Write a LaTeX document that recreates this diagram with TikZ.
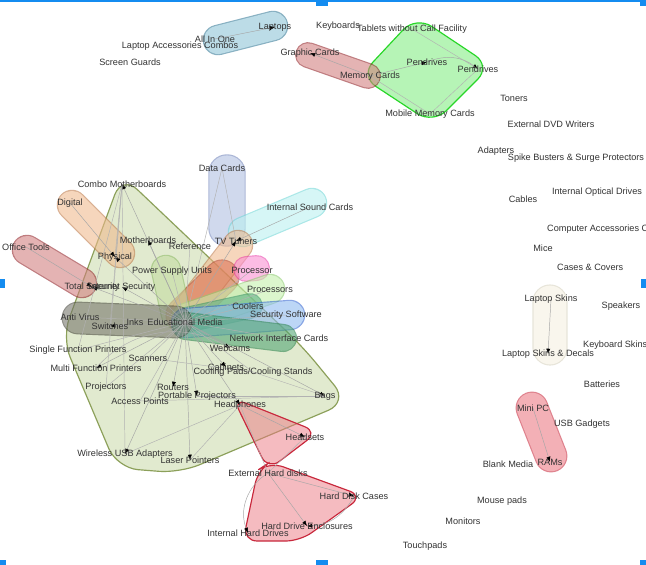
\documentclass[tikz,border=0pt]{standalone}
\usepackage{fontspec}
\setmainfont{Liberation Sans}
\usetikzlibrary{arrows.meta}
\pgfdeclarelayer{hulls}
\pgfdeclarelayer{links}
\pgfsetlayers{hulls,links,main}
\definecolor{olivefill}{RGB}{196,214,160}
\definecolor{oliveline}{RGB}{140,160,90}
\definecolor{redfill}{RGB}{236,120,130}
\definecolor{redline}{RGB}{200,40,60}
\definecolor{greenfill}{RGB}{110,235,110}
\definecolor{greenline}{RGB}{40,215,40}
\definecolor{bluefill}{RGB}{140,195,215}
\definecolor{blueline}{RGB}{50,120,150}
\definecolor{rosefill}{RGB}{210,125,125}
\definecolor{roseline}{RGB}{145,30,35}
\definecolor{beigefill}{RGB}{245,240,225}
\definecolor{beigeline}{RGB}{215,210,190}
\definecolor{peachfill}{RGB}{240,185,140}
\definecolor{peachline}{RGB}{190,120,70}
\definecolor{slatefill}{RGB}{175,190,225}
\definecolor{slateline}{RGB}{110,130,185}
\definecolor{cyanfill}{RGB}{185,240,240}
\definecolor{cyanline}{RGB}{110,215,215}
\definecolor{rustfill}{RGB}{220,110,80}
\definecolor{rustline}{RGB}{180,70,50}
\definecolor{magfill}{RGB}{250,140,210}
\definecolor{magline}{RGB}{235,60,170}
\definecolor{limefill}{RGB}{195,240,170}
\definecolor{limeline}{RGB}{140,205,110}
\definecolor{sagefill}{RGB}{195,220,160}
\definecolor{sageline}{RGB}{140,185,100}
\definecolor{tealfill}{RGB}{90,175,130}
\definecolor{tealline}{RGB}{50,145,100}
\definecolor{skyfill}{RGB}{140,185,240}
\definecolor{skyline}{RGB}{50,100,210}
\definecolor{pinefill}{RGB}{80,165,115}
\definecolor{pineline}{RGB}{40,130,75}
\definecolor{ashfill}{RGB}{115,115,105}
\definecolor{ashline}{RGB}{65,65,55}
\definecolor{handle}{RGB}{20,140,240}

\begin{document}
\begin{tikzpicture}[x=0.03cm, y=-0.03cm,
  lbl/.style={text=black!80, font=\fontsize{7.8}{9}\selectfont, inner sep=0pt},
  link/.style={draw=black!35, line width=0.4pt, -{Latex[length=4.5pt,width=3.5pt,color=black]}},
  plainlink/.style={draw=black!30, line width=0.4pt},
  pill/.style n args={3}{line cap=round, draw=#2, line width=1pt, double=#1, double distance=#3},
  grp/.style={transparency group, opacity=0.58},
  hull/.style 2 args={fill=#1, draw=#2, line width=1pt, fill opacity=0.5, rounded corners=12pt}]
\useasboundingbox (0,0) rectangle (646,565);
\clip (0,0) rectangle (646,565);

\node[lbl] (laptops) at (275,27) {Laptops};
\node[lbl] (keyboards) at (338,26) {Keyboards};
\node[lbl] (tablets) at (412,29) {Tablets without Call Facility};
\node[lbl] (allinone) at (215,39) {All In One};
\node[lbl] (combos) at (180,46) {Laptop Accessories Combos};
\node[lbl] (guards) at (130,62) {Screen Guards};
\node[lbl] (graphic) at (310,53) {Graphic Cards};
\node[lbl] (pen) at (427,62) {Pendrives};
\node[lbl] (pentwo) at (478,69) {Pendrives};
\node[lbl] (memory) at (370,76) {Memory Cards};
\node[lbl] (mobile) at (430,114) {Mobile Memory Cards};
\node[lbl] (toners) at (514,98) {Toners};
\node[lbl] (dvd) at (551,124) {External DVD Writers};
\node[lbl] (adapters) at (496,151) {Adapters};
\node[lbl] (spike) at (576,158) {Spike Busters \& Surge Protectors};
\node[lbl] (cables) at (523,199) {Cables};
\node[lbl] (optical) at (597,192) {Internal Optical Drives};
\node[lbl, anchor=west] (accessories) at (547,229) {Computer Accessories Combos};
\node[lbl] (mice) at (543,248) {Mice};
\node[lbl, anchor=west] (cases) at (557,267) {Cases \& Covers};
\node[lbl] (skins) at (551,299) {Laptop Skins};
\node[lbl] (speakers) at (621,306) {Speakers};
\node[lbl, anchor=west] (kbskins) at (583,345) {Keyboard Skins};
\node[lbl] (decals) at (548,354) {Laptop Skins \& Decals};
\node[lbl] (batteries) at (602,384) {Batteries};
\node[lbl] (minipc) at (533,408) {Mini PC};
\node[lbl] (usb) at (582,424) {USB Gadgets};
\node[lbl] (blank) at (508,464) {Blank Media};
\node[lbl] (rams) at (550,462) {RAMs};
\node[lbl] (mousepads) at (502,501) {Mouse pads};
\node[lbl] (monitors) at (463,521) {Monitors};
\node[lbl] (touchpads) at (425,546) {Touchpads};

\node[lbl] (datacards) at (222,168) {Data Cards};
\node[lbl] (combo) at (122,184) {Combo Motherboards};
\node[lbl] (sound) at (310,207) {Internal Sound Cards};
\node[lbl] (digital) at (70,203) {Digital};
\node[lbl] (mother) at (148,240) {Motherboards};
\node[lbl] (reference) at (190,246) {Reference};
\node[lbl] (tv) at (236,241) {TV Tuners};
\node[lbl] (physical) at (115,257) {Physical};
\node[lbl] (office) at (26,247) {Office Tools};
\node[lbl] (power) at (172,271) {Power Supply Units};
\node[lbl] (processor) at (252,270) {Processor};
\node[lbl] (totalsec) at (92,287) {Total Security};
\node[lbl] (intsec) at (122,287) {Internet Security};
\node[lbl] (processors) at (270,289) {Processors};
\node[lbl] (coolers) at (248,306) {Coolers};
\node[lbl] (secsoft) at (286,315) {Security Software};
\node[lbl] (antivirus) at (80,317) {Anti Virus};
\node[lbl] (switches) at (110,326) {Switches};
\node[lbl] (inks) at (135,322) {Inks};
\node[lbl] (edu) at (185,322) {Educational Media};
\node[lbl] (nic) at (279,338) {Network Interface Cards};
\node[lbl] (single) at (78,350) {Single Function Printers};
\node[lbl] (scanners) at (148,358) {Scanners};
\node[lbl] (webcams) at (230,348) {Webcams};
\node[lbl] (multi) at (96,368) {Multi Function Printers};
\node[lbl] (cabinets) at (226,367) {Cabinets};
\node[lbl] (cooling) at (253,372) {Cooling Pads/Cooling Stands};
\node[lbl] (projectors) at (106,387) {Projectors};
\node[lbl] (routers) at (173,387) {Routers};
\node[lbl] (portable) at (197,396) {Portable Projectors};
\node[lbl] (access) at (140,401) {Access Points};
\node[lbl] (headphones) at (240,405) {Headphones};
\node[lbl] (bags) at (325,396) {Bags};
\node[lbl] (headsets) at (305,437) {Headsets};
\node[lbl] (wireless) at (125,454) {Wireless USB Adapters};
\node[lbl] (laser) at (190,460) {Laser Pointers};
\node[lbl] (external) at (268,473) {External Hard disks};
\node[lbl] (hdcases) at (354,496) {Hard Disk Cases};
\node[lbl] (enclosures) at (307,526) {Hard Drive Enclosures};
\node[lbl] (internal) at (248,533) {Internal Hard Drives};

\begin{pgfonlayer}{hulls}
\fill[white] (0,0) rectangle (646,565);
\filldraw[hull={olivefill}{oliveline}, rounded corners=18pt] (122,175) -- (302,346) -- (348,402) -- (180,473) -- (117,468) -- (62,338) -- cycle;
\filldraw[hull={redfill}{redline}] (270,462) -- (363,496) -- (300,541) -- (243,541) -- (258,470) -- cycle;
\filldraw[hull={redfill}{redline}] (233,398) -- (318,432) -- (268,470) -- cycle;
\filldraw[hull={greenfill}{greenline}, rounded corners=16pt] (360,76) -- (416,16) -- (491,66) -- (433,124) -- cycle;
\begin{scope}[grp] \draw[pill={bluefill}{blueline}{24pt}] (218,40) -- (273,26); \end{scope}
\begin{scope}[grp] \draw[pill={rosefill}{roseline}{20pt}] (308,55) -- (368,76); \end{scope}
\begin{scope}[grp] \draw[pill={beigefill}{beigeline}{28pt}] (550,302) -- (550,348); \end{scope}
\begin{scope}[grp] \draw[pill={redfill}{redline}{26pt}] (532,408) -- (551,456); \end{scope}
\begin{scope}[grp] \draw[pill={rosefill}{roseline}{24pt}] (27,250) -- (82,283); \end{scope}
\begin{scope}[grp] \draw[pill={peachfill}{peachline}{24pt}] (72,205) -- (120,253); \end{scope}
\begin{scope}[grp] \draw[pill={slatefill}{slateline}{30pt}] (227,173) -- (227,228); \end{scope}
\begin{scope}[grp] \draw[pill={cyanfill}{cyanline}{24pt}] (243,232) -- (312,203); \end{scope}
\begin{scope}[grp] \draw[pill={peachfill}{peachline}{24pt}] (238,245) -- (186,312); \end{scope}
\begin{scope}[grp] \draw[pill={rustfill}{rustline}{28pt}] (222,277) -- (183,315); \end{scope}
\begin{scope}[grp] \draw[pill={magfill}{magline}{20pt}] (246,269) -- (257,268); \end{scope}
\begin{scope}[grp] \draw[pill={limefill}{limeline}{24pt}] (270,289) -- (186,318); \end{scope}
\begin{scope}[grp] \draw[pill={sagefill}{sageline}{24pt}] (166,270) -- (176,314); \end{scope}
\begin{scope}[grp] \draw[pill={tealfill}{tealline}{20pt}] (250,306) -- (186,320); \end{scope}
\begin{scope}[grp] \draw[pill={skyfill}{skyline}{24pt}] (290,315) -- (186,323); \end{scope}
\begin{scope}[grp] \draw[pill={pinefill}{pineline}{22pt}] (283,338) -- (186,326); \end{scope}
\begin{scope}[grp] \draw[pill={ashfill}{ashline}{26pt}] (78,318) -- (176,322); \end{scope}
\end{pgfonlayer}

\begin{pgfonlayer}{links}
\foreach \t in {combo, mother, physical, totalsec, intsec, switches, multi, routers, portable, wireless, laser, headphones, bags, webcams, tv, cabinets}
  \draw[link] (edu.center) -- (\t.center);
\foreach \t in {single, scanners, projectors, access, cooling, datacards, processors, coolers, secsoft, nic, power, antivirus, reference, processor}
  \draw[plainlink] (edu.center) -- (\t.center);
\foreach \t in {physical, single, wireless, switches, projectors}
  \draw[plainlink] (combo.center) -- (\t.center);
\draw[plainlink] (mother.center) -- (reference.center);
\draw[link] (digital.center) -- (physical.center);
\draw[link] (office.center) -- (totalsec.center);
\draw[plainlink] (datacards.center) -- (tv.center);
\draw[link] (sound.center) -- (tv.center);
\draw[link] (headphones.center) -- (headsets.center);
\draw[plainlink] (headphones.center) -- (external.center);
\draw[plainlink] (headsets.center) -- (external.center);
\draw[link] (external.center) -- (hdcases.center);
\draw[link] (external.center) -- (enclosures.center);
\draw[link] (external.center) to[bend right=40] (internal.center);
\draw[link] (hdcases.center) to[bend left=30] (enclosures.center);
\draw[plainlink] (wireless.center) -- (headphones.center);
\draw[plainlink] (laser.center) -- (headphones.center);
\draw[plainlink] (access.center) -- (bags.center);
\draw[plainlink] (portable.center) -- (bags.center);
\draw[plainlink] (cooling.center) -- (bags.center);
\draw[plainlink] (multi.center) to[bend left=40] (webcams.center);
\draw[plainlink] (scanners.center) -- (cooling.center);
\draw[link] (allinone.center) -- (laptops.center);
\draw[link] (memory.center) -- (graphic.center);
\draw[link] (memory.center) -- (pen.center);
\draw[link] (pen.center) to[bend left=30] (pentwo.center);
\draw[plainlink] (tablets.center) -- (pentwo.center);
\draw[plainlink] (memory.center) -- (mobile.center);
\draw[plainlink] (mobile.center) -- (pentwo.center);
\draw[link] (skins.center) -- (decals.center);
\draw[link] (minipc.center) -- (rams.center);
\end{pgfonlayer}

\fill[handle] (0,0) rectangle (646,2);
\fill[handle] (316,0) rectangle (328,6);
\fill[handle] (640,0) rectangle (646,6);
\fill[handle] (0,279) rectangle (5,288);
\fill[handle] (641,279) rectangle (646,288);
\fill[handle] (0,560) rectangle (6,565);
\fill[handle] (316,560) rectangle (328,565);
\fill[handle] (640,560) rectangle (646,565);
\end{tikzpicture}
\end{document}
